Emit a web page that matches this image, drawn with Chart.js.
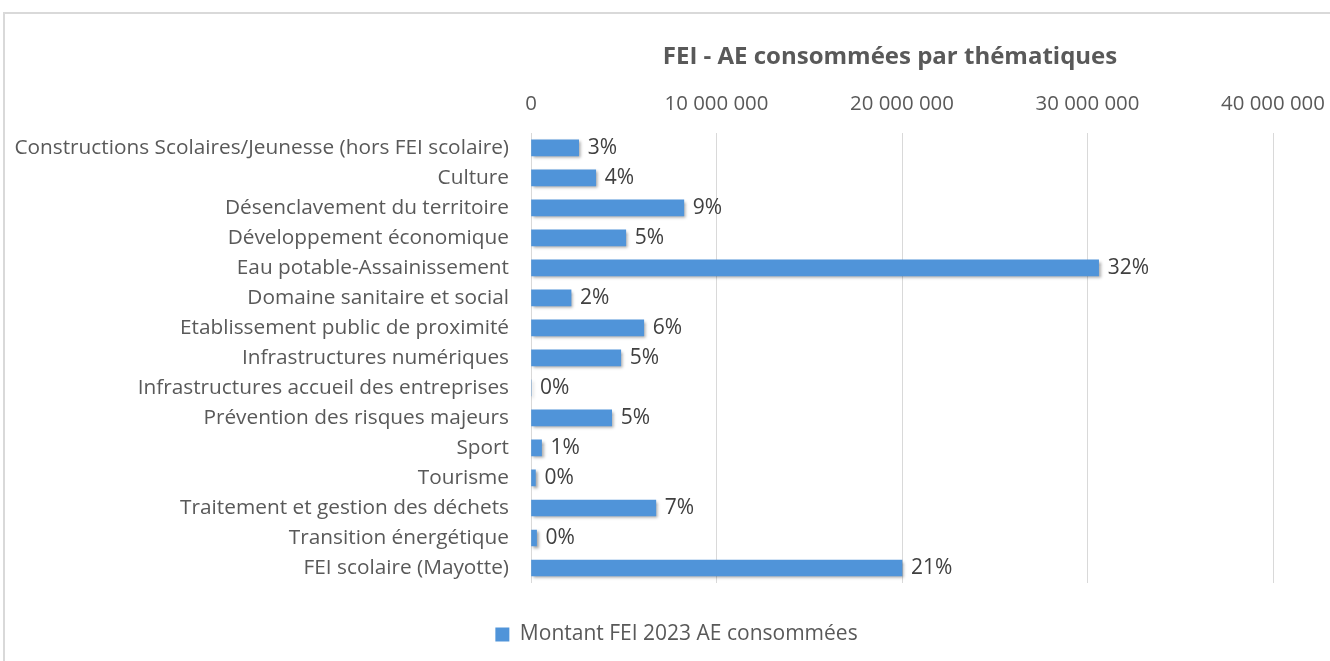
<!DOCTYPE html>
<html><head><meta charset="utf-8">
<script src="https://cdn.jsdelivr.net/npm/chart.js@4/dist/chart.umd.min.js"></script>
<style>
html,body{margin:0;padding:0;background:#fff;overflow:hidden}
#wrap{position:relative;width:1330px;height:661px}
#frame{position:absolute;left:3px;top:12px;width:1400px;height:700px;border:2px solid #d9d9d9;box-sizing:border-box}
canvas{position:absolute;left:0;top:0}
</style></head><body>
<div id="wrap"><div id="frame"></div><canvas id="c" width="1330" height="661"></canvas></div>
<script>
const categories = [
  'Constructions Scolaires/Jeunesse (hors FEI scolaire)',
  'Culture',
  'Désenclavement du territoire',
  'Développement économique',
  'Eau potable-Assainissement',
  'Domaine sanitaire et social',
  'Etablissement public de proximité',
  'Infrastructures numériques',
  'Infrastructures accueil des entreprises',
  'Prévention des risques majeurs',
  'Sport',
  'Tourisme',
  'Traitement et gestion des déchets',
  'Transition énergétique',
  'FEI scolaire (Mayotte)'
];
const montants = [2570000, 3490000, 8240000, 5110000, 30600000, 2160000, 6080000, 4840000, 0, 4350000, 570000, 240000, 6730000, 300000, 20000000];
const percentLabels = ['3%','4%','9%','5%','32%','2%','6%','5%','0%','5%','1%','0%','7%','0%','21%'];
const xTicks = [0, 10000000, 20000000, 30000000, 40000000];
const seriesName = 'Montant FEI 2023 AE consommées';
const chartTitle = 'FEI - AE consommées par thématiques';

const FONT = '"Open Sans", Lato, sans-serif';
const GREY = '#595959';

const fmt = v => String(Math.round(v)).replace(/\B(?=(\d{3})+(?!\d))/g, ' ');

const shiftPlugin = {
  id: 'shiftBlocks',
  afterLayout(chart) {
    if (chart.titleBlock) { chart.titleBlock.left -= 12; chart.titleBlock.right -= 12; }
    if (chart.legend) { chart.legend.left += 40; chart.legend.right += 40; }
  }
};

const shadowPlugin = {
  id: 'shadow',
  beforeDatasetsDraw(chart) {
    const ctx = chart.ctx;
    ctx.save();
    ctx.shadowColor = 'rgba(0,0,0,0.35)';
    ctx.shadowOffsetX = 2;
    ctx.shadowOffsetY = 2;
    ctx.shadowBlur = 3;
  },
  afterDatasetsDraw(chart) {
    chart.ctx.restore();
  }
};

const labelPlugin = {
  id: 'pctLabels',
  afterDraw(chart) {
    const ctx = chart.ctx;
    const meta = chart.getDatasetMeta(0);
    ctx.save();
    ctx.font = '21px ' + FONT;
    ctx.fillStyle = '#404040';
    ctx.textAlign = 'left';
    ctx.textBaseline = 'middle';
    meta.data.forEach((bar, i) => {
      ctx.fillText(percentLabels[i], bar.x + 9, bar.y);
    });
    ctx.restore();
  }
};

new Chart(document.getElementById('c'), {
  type: 'bar',
  data: {
    labels: categories,
    datasets: [{
      label: seriesName,
      data: montants,
      backgroundColor: '#5094d9',
      borderWidth: 0,
      barThickness: 16
    }]
  },
  plugins: [shiftPlugin, shadowPlugin, labelPlugin],
  options: {
    indexAxis: 'y',
    responsive: false,
    animation: false,
    devicePixelRatio: 1,
    layout: { padding: { top: 40, right: 57, bottom: 6, left: 0 } },
    scales: {
      x: {
        position: 'top',
        min: 0, max: 40000000,
        afterBuildTicks: s => { s.ticks = xTicks.map(v => ({ value: v })); },
        afterFit: s => { s.height = 61; s.paddingLeft = 0; s.paddingRight = 0; },
        ticks: { callback: v => fmt(v), font: { family: FONT, size: 20.4 }, color: GREY, padding: 16, maxRotation: 0 },
        grid: { color: '#d9d9d9', lineWidth: 1, drawTicks: false },
        border: { display: false }
      },
      y: {
        afterFit: s => { s.width = 531; },
        ticks: { font: { family: FONT, size: 20.8 }, color: GREY, padding: 22, autoSkip: false },
        grid: { display: false, drawTicks: false },
        border: { display: false }
      }
    },
    plugins: {
      title: {
        display: true, text: chartTitle, color: GREY, fullSize: false,
        font: { family: FONT, size: 24, weight: 'bold' },
        padding: { top: 3, bottom: 0 }
      },
      legend: {
        position: 'bottom',
        labels: { font: { family: FONT, size: 21 }, color: GREY, boxWidth: 14, boxHeight: 14, padding: 41 }
      },
      tooltip: { enabled: false }
    }
  }
});
</script>
</body></html>
